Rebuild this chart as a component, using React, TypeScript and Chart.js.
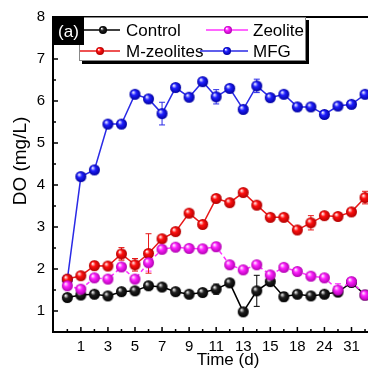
import React, { useEffect, useRef } from 'react';
import { Chart, registerables } from 'chart.js';
Chart.register(...registerables);

const days = ['0','1','2','3','4','5','6','7','8','9','10','11','12','13','14','15','16','18','21','24','28','31','35'];
const yTickValues = [1, 2, 3, 4, 5, 6, 7, 8];
const xTitle = 'Time (d)';
const yTitle = 'DO (mg/L)';

const control = [1.32,1.38,1.40,1.36,1.46,1.48,1.60,1.57,1.46,1.40,1.44,1.52,1.67,0.98,1.48,1.70,1.34,1.40,1.36,1.40,1.45,1.68,1.38];
const zeolite = [1.60,1.52,1.79,1.76,2.05,1.76,2.15,2.47,2.52,2.49,2.48,2.53,2.10,1.98,2.10,1.86,2.04,1.94,1.83,1.79,1.50,1.70,1.38];
const mZeolites = [1.76,1.84,2.08,2.07,2.36,2.10,2.37,2.72,2.89,3.33,3.06,3.68,3.58,3.82,3.52,3.23,3.23,2.93,3.10,3.27,3.25,3.36,3.70];
const mfg = [1.75,4.20,4.36,5.45,5.45,6.16,6.05,5.70,6.32,6.09,6.46,6.10,6.30,5.80,6.36,6.08,6.16,5.86,5.86,5.68,5.88,5.92,6.16];

const controlErr = [0.05,0.04,0.04,0.05,0.04,0.05,0.04,0.04,0.04,0.04,0.04,0.12,0.04,0.04,0.37,0.04,0.1,0.04,0.04,0.04,0.04,0.04,0.04];
const zeoliteErr = [0.06,0.04,0.05,0.04,0.06,0.06,0.2,0.05,0.04,0.04,0.04,0.1,0.04,0.04,0.04,0.04,0.04,0.04,0.04,0.04,0.15,0.04,0.04];
const mZeolitesErr = [0.05,0.04,0.1,0.05,0.15,0.15,0.47,0.05,0.05,0.05,0.05,0.05,0.05,0.05,0.05,0.05,0.05,0.05,0.17,0.05,0.05,0.05,0.15];
const mfgErr = [0.05,0.05,0.05,0.05,0.05,0.05,0.05,0.27,0.05,0.05,0.05,0.17,0.05,0.05,0.16,0.05,0.05,0.05,0.05,0.05,0.05,0.05,0.05];

const FONT = '"Liberation Sans", Arial, sans-serif';

function sphere(color: string, dark: string, r: number): HTMLCanvasElement {
  const c = document.createElement('canvas');
  const s = Math.ceil(r * 2) + 2;
  c.width = s; c.height = s;
  const g = c.getContext('2d')!;
  const cx = s / 2, cy = s / 2;
  const grad = g.createRadialGradient(cx - r * 0.35, cy - r * 0.4, r * 0.05, cx, cy, r);
  grad.addColorStop(0, 'rgba(255,255,255,0.95)');
  grad.addColorStop(0.4, color);
  grad.addColorStop(1, dark);
  g.fillStyle = grad;
  g.beginPath(); g.arc(cx, cy, r, 0, Math.PI * 2); g.fill();
  return c;
}

export default function App() {
  const ref = useRef<HTMLCanvasElement | null>(null);
  useEffect(() => {
    document.body.style.margin = '0';
    const canvas = ref.current!;
    const spheres = {
      control: sphere('#202020', '#000000', 5.5),
      zeolite: sphere('#ff22ff', '#b000b0', 5.5),
      mzeo: sphere('#ff1010', '#b00000', 5.5),
      mfg: sphere('#2020ff', '#0000a0', 5.5),
    };
    const small = {
      control: sphere('#202020', '#000000', 4),
      zeolite: sphere('#ff22ff', '#b000b0', 4),
      mzeo: sphere('#ff1010', '#b00000', 4),
      mfg: sphere('#2020ff', '#0000a0', 4),
    };
    const series = [
      { label: 'Zeolite', vals: zeolite, err: zeoliteErr, color: '#ff33ff', img: spheres.zeolite, dash: [4, 3] },
      { label: 'M-zeolites', vals: mZeolites, err: mZeolitesErr, color: '#e81818', img: spheres.mzeo, dash: [] },
      { label: 'Control', vals: control, err: controlErr, color: '#000000', img: spheres.control, dash: [] },
      { label: 'MFG', vals: mfg, err: mfgErr, color: '#2a2ae6', img: spheres.mfg, dash: [] },
    ];

    const decor = {
      id: 'decor',
      beforeDatasetsDraw(chart: any) {
        const ctx = chart.ctx;
        const xs = chart.scales.x, ys = chart.scales.y;
        ctx.save();
        ctx.lineWidth = 1;
        for (const s of series) {
          ctx.strokeStyle = s.color;
          s.vals.forEach((v, i) => {
            const e = s.err[i];
            const x = xs.getPixelForValue(i);
            const y1 = ys.getPixelForValue(v + e);
            const y2 = ys.getPixelForValue(v - e);
            ctx.beginPath();
            ctx.moveTo(x, y1); ctx.lineTo(x, y2);
            ctx.moveTo(x - 3, y1); ctx.lineTo(x + 3, y1);
            ctx.moveTo(x - 3, y2); ctx.lineTo(x + 3, y2);
            ctx.stroke();
          });
        }
        ctx.restore();
      },
      afterDraw(chart: any) {
        const ctx = chart.ctx;
        const a = chart.chartArea;
        const xs = chart.scales.x, ys = chart.scales.y;
        ctx.save();
        // frame
        ctx.strokeStyle = '#000';
        ctx.lineWidth = 2;
        ctx.beginPath();
        ctx.moveTo(a.right, a.top); ctx.lineTo(a.left, a.top);
        ctx.lineTo(a.left, a.bottom); ctx.lineTo(a.right, a.bottom);
        ctx.stroke();
        // ticks
        ctx.lineWidth = 1.5;
        ctx.beginPath();
        for (let v = 1; v <= 8; v += 0.5) {
          const y = ys.getPixelForValue(v);
          const len = Number.isInteger(v) ? 5 : 3;
          ctx.moveTo(a.left, y); ctx.lineTo(a.left + len, y);
        }
        days.forEach((_, i) => {
          const x = xs.getPixelForValue(i);
          const len = i % 2 === 1 ? 5 : 3;
          ctx.moveTo(x, a.bottom); ctx.lineTo(x, a.bottom - len);
        });
        ctx.stroke();
        // axis titles
        ctx.fillStyle = '#000';
        ctx.textAlign = 'center';
        ctx.textBaseline = 'middle';
        ctx.font = `17px ${FONT}`;
        ctx.fillText(xTitle, 228, 360);
        ctx.save();
        ctx.translate(21, 161);
        ctx.rotate(-Math.PI / 2);
        ctx.font = `19px ${FONT}`;
        ctx.fillText(yTitle, 0, 0);
        ctx.restore();
        // legend box
        const bx = 79, by = 17, bw = 227, bh = 44;
        ctx.fillStyle = '#000';
        ctx.fillRect(bx + 3, by + bh, bw, 3);
        ctx.fillRect(bx + bw, by + 3, 3, bh);
        ctx.fillStyle = '#fff';
        ctx.fillRect(bx, by, bw, bh);
        ctx.strokeStyle = '#888';
        ctx.lineWidth = 1;
        ctx.strokeRect(bx + 0.5, by + 0.5, bw - 1, bh - 1);
        // (a) tag
        ctx.fillStyle = '#000';
        ctx.fillRect(a.left, a.top, 31, 28);
        ctx.fillStyle = '#fff';
        ctx.font = `17px ${FONT}`;
        ctx.textAlign = 'center';
        ctx.textBaseline = 'middle';
        ctx.fillText('(a)', a.left + 15.5, a.top + 15);
        // legend entries
        const entries = [
          { t: 'Control', c: '#000', img: small.control, x1: 84, x2: 120, mx: 103, tx: 126, y: 30 },
          { t: 'Zeolite', c: '#ff33ff', img: small.zeolite, x1: 206, x2: 248, mx: 228, tx: 253, y: 30 },
          { t: 'M-zeolites', c: '#e81818', img: small.mzeo, x1: 80, x2: 120, mx: 100, tx: 126, y: 51 },
          { t: 'MFG', c: '#2a2ae6', img: small.mfg, x1: 200, x2: 248, mx: 227, tx: 253, y: 51 },
        ];
        ctx.textAlign = 'left';
        for (const e of entries) {
          ctx.strokeStyle = e.c;
          ctx.lineWidth = 1.5;
          ctx.beginPath(); ctx.moveTo(e.x1, e.y); ctx.lineTo(e.x2, e.y); ctx.stroke();
          ctx.drawImage(e.img, e.mx - e.img.width / 2, e.y - e.img.height / 2);
          ctx.fillStyle = '#000';
          ctx.fillText(e.t, e.tx, e.y + 1);
        }
        ctx.restore();
      },
    };

    const chart = new Chart(canvas, {
      type: 'line',
      data: {
        datasets: series.map((s) => ({
          label: s.label,
          data: s.vals.map((v, i) => ({ x: i, y: v })),
          borderColor: s.color,
          borderWidth: 1.5,
          borderDash: s.dash,
          pointStyle: s.img as any,
          pointRadius: 5.5,
          tension: 0,
          fill: false,
        })),
      },
      options: {
        responsive: false,
        animation: false,
        layout: { padding: { top: 16, right: 0, left: 0, bottom: 0 } },
        plugins: { legend: { display: false }, tooltip: { enabled: false } },
        scales: {
          x: {
            type: 'linear',
            min: -1.06,
            max: 22.22,
            afterFit: (s: any) => { s.height = 38; },
            afterBuildTicks: (s: any) => { s.ticks = days.map((_, i) => ({ value: i })); },
            grid: { display: false, drawTicks: false },
            border: { display: false },
            ticks: {
              autoSkip: false,
              maxRotation: 0,
              padding: 6,
              color: '#000',
              font: { family: FONT, size: 15 },
              callback: (v: any) => (Number(v) % 2 === 1 ? days[Number(v)] : ''),
            },
          },
          y: {
            min: 0.5,
            max: 8,
            afterFit: (s: any) => { s.width = 53; },
            afterBuildTicks: (s: any) => { s.ticks = yTickValues.map((v) => ({ value: v })); },
            grid: { display: false, drawTicks: false },
            border: { display: false },
            ticks: { padding: 8, color: '#000', font: { family: FONT, size: 15 } },
          },
        },
      },
      plugins: [decor],
    });
    return () => chart.destroy();
  }, []);
  return <canvas ref={ref} width={375} height={370} style={{ display: 'block' }} />;
}
